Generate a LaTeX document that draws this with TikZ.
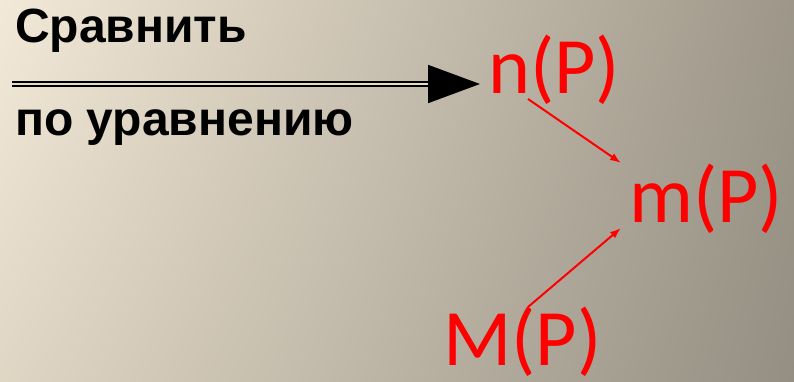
\documentclass[tikz,border=0pt]{standalone}
\usepackage{fontspec}
\setmainfont{Liberation Sans}
\newfontfamily\calibri{Carlito}
\usetikzlibrary{arrows.meta,shadings}
\definecolor{bgTL}{HTML}{F3E9D8}
\definecolor{bgTR}{HTML}{9E9789}
\definecolor{bgBL}{HTML}{E0D6C4}
\definecolor{bgBR}{HTML}{948F83}
\definecolor{gapcol}{HTML}{E4DACA}
\begin{document}
\begin{tikzpicture}[
x=1pt, y=-1pt,
label/.style={
anchor=base west,
inner sep=0pt,
font=\bfseries\fontsize{48}{48}\selectfont
},
formula/.style={
anchor=base west,
inner sep=0pt,
text=red,
font=\calibri\fontsize{80}{80}\selectfont
},
link/.style={
red,
line width=2pt,
-{Latex[length=11pt,width=8pt]}
}
]

\useasboundingbox (0,0) rectangle (794,381);
\shade[upper left=bgTL, upper right=bgTR, lower left=bgBL, lower right=bgBR]
(0,0) rectangle (794,381);

\node[label] (T1) at (15,42) {Сравнить};
\node[label] (T2) at (15,135) {по уравнению};

\node[formula] (n) at (488,93) {n(P)};
\node[formula] (m) at (629,222) {m(P)};
\node[formula] (M) at (443,365) {M(P)};

\coordinate (start) at (12,84);

\draw[double=gapcol, double distance=2.5pt, line width=1.8pt,
-{Triangle[length=52pt,width=38pt]}] (start) -- ([xshift=-8pt]n.west |- start);

\draw[link] ([shift={(40,6)}]n.base west) -- ([shift={(-8,-59)}]m.base west);
\draw[link] ([shift={(85,-58)}]M.base west) -- ([shift={(-8,6)}]m.base west);

\end{tikzpicture}
\end{document}
